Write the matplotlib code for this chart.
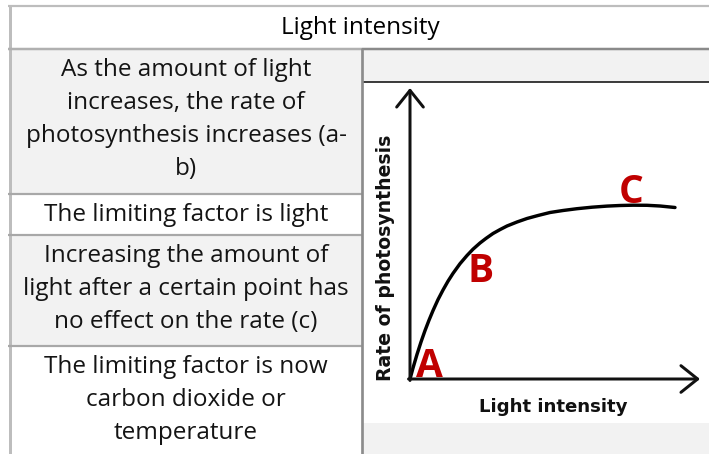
import matplotlib
matplotlib.use('Agg')
import matplotlib.pyplot as plt
from matplotlib.patches import Rectangle

# ---------------- data ----------------
header_text = "Light intensity"
cell_lines = [
    ["As the amount of light", "increases, the rate of",
     "photosynthesis increases (a-", "b)"],
    ["The limiting factor is light"],
    ["Increasing the amount of", "light after a certain point has",
     "no effect on the rate (c)"],
    ["The limiting factor is now", "carbon dioxide or", "temperature"],
]
light_intensity = [0, 3, 7, 11, 15, 19, 23, 28, 33, 38, 43, 50, 57, 63, 70, 76, 83, 90,
                   97, 107, 117, 128, 140, 153, 167, 182, 197, 210, 223, 237, 250, 265]
photosynthesis_rate = [0, 11, 24.6, 37, 48.4, 58.8, 68.4, 79.4, 89, 97.8, 105.6, 115.3, 123.5,
                       129.8, 136, 140.6, 145.5, 149.4, 153, 157, 160.5, 163.5, 166.5, 168.5,
                       170.3, 171.8, 172.9, 173.5, 173.8, 173.7, 173, 171.5]
point_labels = ["A", "B", "C"]
point_label_x = [19, 70.5, 221.5]
point_label_y = [2, 97, 176]
x_axis_label = "Light intensity"
y_axis_label = "Rate of photosynthesis"

# ---------------- layout ----------------
W, H = 709, 454
fig = plt.figure(figsize=(W / 100, H / 100), dpi=100)
bg = fig.add_axes([0, 0, 1, 1])
bg.set_xlim(0, W)
bg.set_ylim(H, 0)
bg.axis('off')


def pt(p):
    return p * 0.72


TXT = dict(family='Open Sans', fontsize=17.5, color='#141414')

# row fills (left column)
row_bounds = [49, 194, 235, 346, 454]
row_fill = ['#f2f2f2', 'white', '#f2f2f2', 'white']
for i in range(4):
    bg.add_patch(Rectangle((10, row_bounds[i]), 362 - 10, row_bounds[i + 1] - row_bounds[i],
                           facecolor=row_fill[i], edgecolor='none', zorder=1))
# right column grey strips
bg.add_patch(Rectangle((362, 49), W - 362, 82 - 49, facecolor='#f2f2f2', edgecolor='none', zorder=1))
bg.add_patch(Rectangle((362, 423), W - 362, H - 423, facecolor='#f2f2f2', edgecolor='none', zorder=1))

# borders
bg.plot([8, W], [6, 6], color='#bdbdbd', lw=pt(2.2), zorder=3, solid_capstyle='butt')
bg.plot([9.5, 9.5], [5, H], color='#bdbdbd', lw=pt(3), zorder=3, solid_capstyle='butt')
bg.plot([8, 362], [49, 49], color='#b0b0b0', lw=pt(2.5), zorder=3, solid_capstyle='butt')
bg.plot([362, W], [49, 49], color='#8a8a8a', lw=pt(2.5), zorder=3, solid_capstyle='butt')
for yb in row_bounds[1:4]:
    bg.plot([8, 362], [yb, yb], color='#a8a8a8', lw=pt(2.2), zorder=3, solid_capstyle='butt')
bg.plot([362, 362], [48, H], color='#8c8c8c', lw=pt(2.7), zorder=4, solid_capstyle='butt')
bg.plot([363, W], [82, 82], color='#111111', lw=pt(1.6), zorder=3, solid_capstyle='butt')

# header
bg.text(360, 34, header_text, ha='center', va='baseline', family='Open Sans',
        fontsize=17.5, color='black', zorder=5)

# cell text
first_baselines = [76, 221, 262, 373]
step = 33
for lines, b0 in zip(cell_lines, first_baselines):
    for k, line in enumerate(lines):
        bg.text(186, b0 + k * step, line, ha='center', va='baseline', zorder=5, **TXT)

# axis labels (part of the pictured graph)
bg.text(553, 407, x_axis_label, ha='center', va='center', family='DejaVu Sans',
        fontweight='bold', fontsize=13.1, color='#111111', zorder=5)
bg.text(385.5, 258, y_axis_label, ha='center', va='center', rotation=90,
        family='DejaVu Sans', fontweight='bold', fontsize=13.6, color='#111111', zorder=5)

# ---------------- chart ----------------
x0, y0 = 410, 379  # pixel position of origin
ax = fig.add_axes([363 / W, (H - 423) / H, (W - 363) / W, (423 - 83) / H], zorder=2)
ax.set_xlim(363 - x0, W - x0)
ax.set_ylim(y0 - 423, y0 - 83)
ax.axis('off')
ax.patch.set_visible(False)

arrow = dict(arrowstyle='->, head_length=1.0, head_width=0.8', mutation_scale=12,
             lw=pt(3), color='#111111', shrinkA=0, shrinkB=0)
ax.annotate('', xy=(0, y0 - 88), xytext=(0, -1.5), arrowprops=arrow)
ax.annotate('', xy=(700 - x0, 0), xytext=(-1.5, 0), arrowprops=arrow)

ax.plot(light_intensity, photosynthesis_rate, color='black', lw=pt(3.4),
        solid_capstyle='round', solid_joinstyle='round')

for lab, lx, ly in zip(point_labels, point_label_x, point_label_y):
    ax.text(lx, ly, lab, ha='center', va='baseline', family='Open Sans',
            fontweight='bold', fontsize=28, color='#c00000')

fig.savefig('out.png', dpi=100)
